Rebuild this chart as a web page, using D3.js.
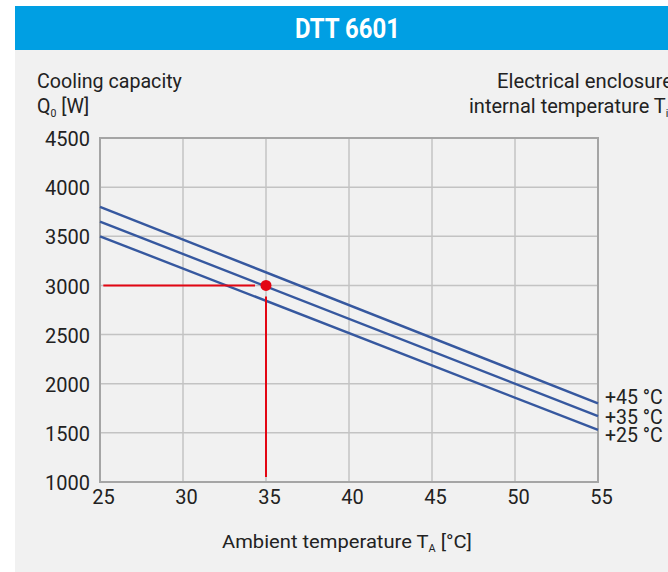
<!DOCTYPE html>
<html><head><meta charset="utf-8">
<script src="https://cdn.jsdelivr.net/npm/d3@7"></script>
<style>
html,body{margin:0;padding:0;background:#fff;}
svg{display:block;}
text{font-family:Roboto,"Liberation Sans",sans-serif;fill:#222;}
</style></head>
<body>
<svg id="chart" width="668" height="572"></svg>
<script>
const title = "DTT 6601";
const xTicks = [25, 30, 35, 40, 45, 50, 55];
const yTicks = [1000, 1500, 2000, 2500, 3000, 3500, 4000, 4500];
const ambientTemps = [25, 55];
const seriesNames = ["+45 °C", "+35 °C", "+25 °C"];
const series45 = [3800, 1800];
const series35 = [3650, 1670];
const series25 = [3500, 1530];
const refPoint = [35, 3000];
const guideStartX = 25.2;
const guideEndY = 1050;

const svg = d3.select("#chart");
svg.append("rect").attr("x",15).attr("y",6).attr("width",653).attr("height",566).attr("fill","#f1f1f1");
svg.append("rect").attr("x",15).attr("y",6).attr("width",653).attr("height",44).attr("fill","#009fe3");

// helper: horizontally scale a text group to a target width (measured on the first tspan/text)
function placeText(parent, x0, y0, width, build, anchor, measureSel) {
  const g = parent.append("g");
  const t = g.append("text");
  build(t);
  const node = measureSel ? t.select(measureSel).node() : t.node();
  const w = node.getComputedTextLength();
  const f = width / w;
  const tx = anchor === "middle" ? x0 - width/2 : x0;
  g.attr("transform", `translate(${tx},${y0}) scale(${f},1)`);
  return {g, f, t};
}

placeText(svg, 295, 38, 105, t => t.style("font-weight","bold").style("font-size","27px").style("fill","#fff").text(title));

const x = d3.scaleLinear().domain([25,55]).range([100,598]);
const y = d3.scaleLinear().domain([1000,4500]).range([482,138]);

const g = svg.append("g");
g.selectAll(".vg").data(xTicks).join("line")
  .attr("x1",d=>x(d)).attr("x2",d=>x(d)).attr("y1",y(1000)).attr("y2",y(4500))
  .attr("stroke","#c3c3c3").attr("stroke-width",1.5);
g.selectAll(".hg").data(yTicks).join("line")
  .attr("x1",x(25)).attr("x2",x(55)).attr("y1",d=>y(d)).attr("y2",d=>y(d))
  .attr("stroke","#c3c3c3").attr("stroke-width",1.5);
g.append("rect").attr("x",x(25)).attr("y",y(4500)).attr("width",x(55)-x(25)).attr("height",y(1000)-y(4500))
  .attr("fill","none").attr("stroke","#a5a5a5").attr("stroke-width",2);

const xAxis = d3.axisBottom(x).tickValues(xTicks).tickSize(0).tickPadding(8).tickFormat(d3.format("d"));
const gx = svg.append("g").attr("transform",`translate(0,${y(1000)})`).call(xAxis);
gx.select(".domain").remove();
gx.selectAll("text").style("font-size","20px").attr("fill","#222").attr("dx","3");
const yAxis = d3.axisLeft(y).tickValues(yTicks).tickSize(0).tickPadding(10).tickFormat(d3.format("d"));
const gy = svg.append("g").attr("transform",`translate(${x(25)},0)`).call(yAxis);
gy.select(".domain").remove();
gy.selectAll("text").style("font-size","20px").attr("fill","#222").attr("dy","0.38em");

const allSeries = [series45, series35, series25];
const line = d3.line().x((d,i)=>x(ambientTemps[i])).y(d=>y(d));
g.selectAll(".s").data(allSeries).join("path")
  .attr("d",d=>line(d)).attr("fill","none").attr("stroke","#36589f").attr("stroke-width",2.4);

svg.selectAll(".sl").data(allSeries).join("text")
  .attr("x",x(55)+7).attr("y",(d,i)=>y(d[1]) + [1,8,12][i])
  .style("font-size","19.5px").text((d,i)=>seriesNames[i]);

const gap = 11;
svg.append("line").attr("x1",x(guideStartX)).attr("x2",x(refPoint[0])-gap)
  .attr("y1",y(refPoint[1])).attr("y2",y(refPoint[1])).attr("stroke","#e30613").attr("stroke-width",2);
svg.append("line").attr("x1",x(refPoint[0])).attr("x2",x(refPoint[0]))
  .attr("y1",y(refPoint[1])+gap).attr("y2",y(guideEndY)).attr("stroke","#e30613").attr("stroke-width",2);
svg.append("circle").attr("cx",x(refPoint[0])).attr("cy",y(refPoint[1])).attr("r",5.5).attr("fill","#e30613");

// axis titles
const c1 = placeText(svg, 37, 88, 145, t => t.style("font-size","20.5px").text("Cooling capacity"));
const f = c1.f;
const q = svg.append("g").attr("transform",`translate(37,112.5) scale(${f},1)`).append("text").style("font-size","20.5px");
q.append("tspan").text("Q");
q.append("tspan").attr("dy",4).style("font-size","11px").text("0");
q.append("tspan").attr("dy",-4).text(" [W]");

placeText(svg, 497, 88, 176, t => t.style("font-size","20.5px").text("Electrical enclosure"));
placeText(svg, 469, 113, 197, t => {
  t.style("font-size","20.5px");
  t.append("tspan").attr("class","main").text("internal temperature T");
  t.append("tspan").attr("dy",4).style("font-size","11px").text("i");
}, null, ".main");

placeText(svg, 347, 547.5, 250, t => {
  t.style("font-size","18.5px");
  t.append("tspan").text("Ambient temperature T");
  t.append("tspan").attr("dy",4).style("font-size","10px").text("A");
  t.append("tspan").attr("dy",-4).text(" [°C]");
}, "middle");
</script>
</body></html>
